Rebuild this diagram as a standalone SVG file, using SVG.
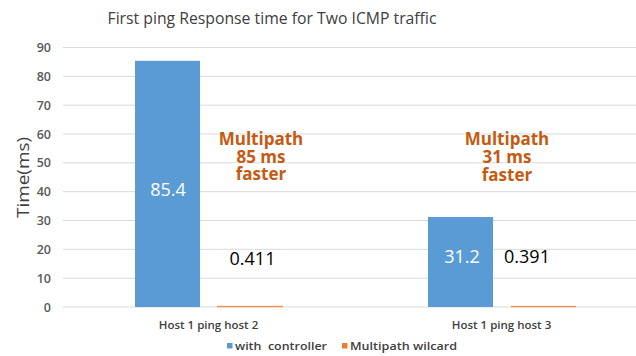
<svg xmlns="http://www.w3.org/2000/svg" width="636" height="356" viewBox="0 0 636 356">
  <style>
    text { font-family: "Open Sans", "Noto Sans", "Liberation Sans", sans-serif; }
    .grid { stroke: #d9d9d9; stroke-width: 1; }
    .tick { font-size: 12.5px; fill: #595959; text-anchor: end; font-weight: 600; }
    .cat { font-size: 11.5px; fill: #404040; text-anchor: middle; font-weight: 600; }
    .val { font-size: 18px; text-anchor: middle; }
    .note { font-size: 17px; font-weight: 700; fill: #c55a11; text-anchor: middle; }
    .legend { font-size: 11px; fill: #404040; font-weight: 600; }
    .blue { fill: #5b9bd5; }
    .orange { fill: #ed7d31; }
  </style>
  <rect width="636" height="356" fill="#ffffff"/>

  <!-- chart title -->
  <g id="title">
    <text x="272" y="24" font-size="16" fill="#404040" text-anchor="middle" textLength="329" lengthAdjust="spacingAndGlyphs">First ping Response time for Two ICMP traffic</text>
  </g>

  <!-- horizontal gridlines, 10 ms steps -->
  <g id="gridlines">
    <line class="grid" x1="63" y1="47.5" x2="636" y2="47.5"/>
    <line class="grid" x1="63" y1="76.3" x2="636" y2="76.3"/>
    <line class="grid" x1="63" y1="105.2" x2="636" y2="105.2"/>
    <line class="grid" x1="63" y1="134" x2="636" y2="134"/>
    <line class="grid" x1="63" y1="162.8" x2="636" y2="162.8"/>
    <line class="grid" x1="63" y1="191.7" x2="636" y2="191.7"/>
    <line class="grid" x1="63" y1="220.5" x2="636" y2="220.5"/>
    <line class="grid" x1="63" y1="249.3" x2="636" y2="249.3"/>
    <line class="grid" x1="63" y1="278.2" x2="636" y2="278.2"/>
    <line class="grid" x1="63" y1="307" x2="636" y2="307"/>
  </g>

  <!-- value axis -->
  <g id="y-axis">
    <text class="tick" x="51" y="52">90</text>
    <text class="tick" x="51" y="80.8">80</text>
    <text class="tick" x="51" y="109.7">70</text>
    <text class="tick" x="51" y="138.5">60</text>
    <text class="tick" x="51" y="167.3">50</text>
    <text class="tick" x="51" y="196.2">40</text>
    <text class="tick" x="51" y="225">30</text>
    <text class="tick" x="51" y="253.8">20</text>
    <text class="tick" x="51" y="282.7">10</text>
    <text class="tick" x="51" y="311.5">0</text>
    <text x="0" y="0" font-size="17" fill="#404040" text-anchor="middle" textLength="81" lengthAdjust="spacingAndGlyphs" transform="translate(29 177.5) rotate(-90)">Time(ms)</text>
  </g>

  <!-- bars -->
  <g id="bars">
    <rect class="blue" x="135" y="60.8" width="65" height="246.2"/>
    <rect class="orange" x="217" y="305.8" width="66" height="1.4" opacity="0.8"/>
    <rect class="blue" x="428" y="217" width="65" height="90"/>
    <rect class="orange" x="511" y="305.8" width="65" height="1.4" opacity="0.8"/>
  </g>

  <!-- data labels -->
  <g id="data-labels">
    <text class="val" x="168" y="195.5" fill="#ffffff">85.4</text>
    <text class="val" x="252.5" y="265" fill="#000000">0.411</text>
    <text class="val" x="462" y="263" fill="#ffffff">31.2</text>
    <text class="val" x="527" y="263" fill="#000000">0.391</text>
  </g>

  <!-- annotations -->
  <g id="note-host2">
    <text class="note" x="261" y="145"><tspan x="261">Multipath</tspan><tspan x="261" dy="17.5">85 ms</tspan><tspan x="261" dy="17.5">faster</tspan></text>
  </g>
  <g id="note-host3">
    <text class="note" x="507" y="145"><tspan x="507">Multipath</tspan><tspan x="507" dy="18">31 ms</tspan><tspan x="507" dy="18">faster</tspan></text>
  </g>

  <!-- category axis -->
  <g id="x-axis">
    <text class="cat" x="208.5" y="329">Host 1 ping host 2</text>
    <text class="cat" x="501.5" y="329">Host 1 ping host 3</text>
  </g>

  <!-- legend -->
  <g id="legend">
    <rect class="blue" x="227" y="343" width="5.5" height="5.5"/>
    <text class="legend" x="235" y="349.5" xml:space="preserve" textLength="92" lengthAdjust="spacingAndGlyphs">with  controller</text>
    <rect class="orange" x="342" y="343" width="5.5" height="5.5"/>
    <text class="legend" x="350" y="349.5" textLength="107" lengthAdjust="spacingAndGlyphs">Multipath wilcard</text>
  </g>
</svg>
